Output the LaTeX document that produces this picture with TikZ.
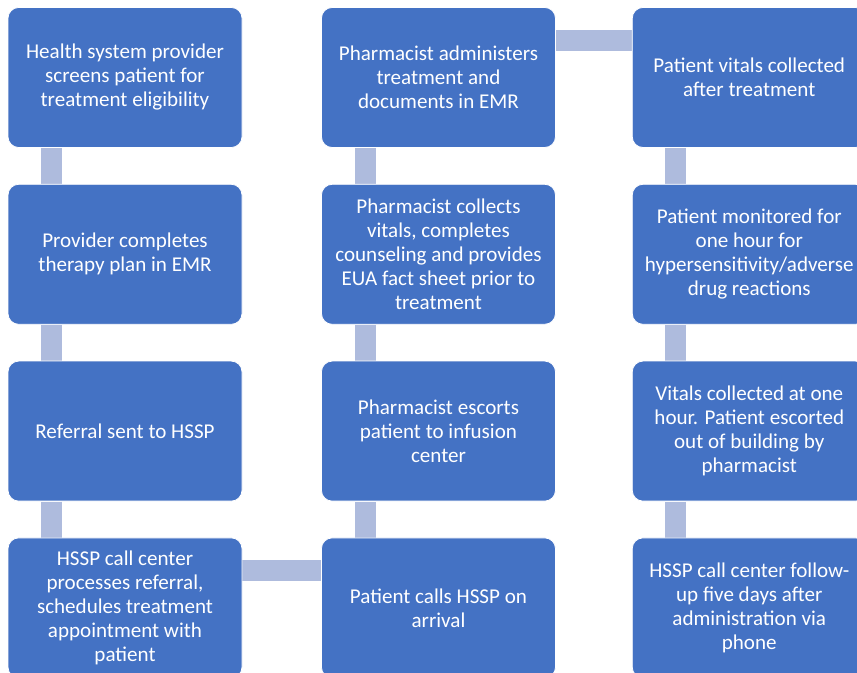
\documentclass[tikz,border=0pt]{standalone}
\usepackage{fontspec}
\setmainfont{Carlito}
\usetikzlibrary{positioning,backgrounds}
\definecolor{boxblue}{RGB}{68,114,196}
\definecolor{linkblue}{RGB}{174,187,221}
\tikzset{
  stepbox/.style={draw=white, line width=0.6pt, fill=boxblue, rounded corners=8pt,
    minimum width=175.5pt, minimum height=105pt, text=white, align=center,
    font=\fontsize{15.8}{18}\selectfont, inner sep=2pt},
  link/.style={draw=linkblue, line width=15.75pt}
}
\begin{document}
\begin{tikzpicture}[x=0.75pt, y=0.75pt, node distance=27pt and 59pt]
\useasboundingbox (0,0) rectangle (857,-673);
\node[stepbox] (a1) at (125,-77.5) {Health system provider\\screens patient for\\treatment eligibility};
\node[stepbox] (a2) [below=of a1] {Provider completes\\therapy plan in EMR};
\node[stepbox] (a3) [below=of a2] {Referral sent to HSSP};
\node[stepbox] (a4) [below=of a3] {HSSP call center\\processes referral,\\schedules treatment\\appointment with\\patient};
\node[stepbox] (b1) [right=of a1] {Pharmacist administers\\treatment and\\documents in EMR};
\node[stepbox] (b2) [below=of b1] {Pharmacist collects\\vitals, completes\\counseling and provides\\EUA fact sheet prior to\\treatment};
\node[stepbox] (b3) [below=of b2] {Pharmacist escorts\\patient to infusion\\center};
\node[stepbox] (b4) [below=of b3] {Patient calls HSSP on\\arrival};
\node[stepbox] (c1) [right=57pt of b1] {Patient vitals collected\\after treatment};
\node[stepbox] (c2) [below=of c1] {Patient monitored for\\one hour for\\hypersensitivity/adverse\\drug reactions};
\node[stepbox] (c3) [below=of c2] {Vitals collected at one\\hour. Patient escorted\\out of building by\\pharmacist};
\node[stepbox] (c4) [below=of c3] {HSSP call center follow-\\up five days after\\administration via\\phone};
\begin{scope}[on background layer]
\draw[link] ([xshift=33pt]a1.south west) -- ([xshift=33pt]a2.north west);
\draw[link] ([xshift=33pt]a2.south west) -- ([xshift=33pt]a3.north west);
\draw[link] ([xshift=33pt]a3.south west) -- ([xshift=33pt]a4.north west);
\draw[link] ([yshift=-25pt]a4.north east) -- ([yshift=-25pt]b4.north west);
\draw[link] ([xshift=33pt]b4.north west) -- ([xshift=33pt]b3.south west);
\draw[link] ([xshift=33pt]b3.north west) -- ([xshift=33pt]b2.south west);
\draw[link] ([xshift=33pt]b2.north west) -- ([xshift=33pt]b1.south west);
\draw[link] ([yshift=-25pt]b1.north east) -- ([yshift=-25pt]c1.north west);
\draw[link] ([xshift=33pt]c1.south west) -- ([xshift=33pt]c2.north west);
\draw[link] ([xshift=33pt]c2.south west) -- ([xshift=33pt]c3.north west);
\draw[link] ([xshift=33pt]c3.south west) -- ([xshift=33pt]c4.north west);
\end{scope}
\end{tikzpicture}
\end{document}
